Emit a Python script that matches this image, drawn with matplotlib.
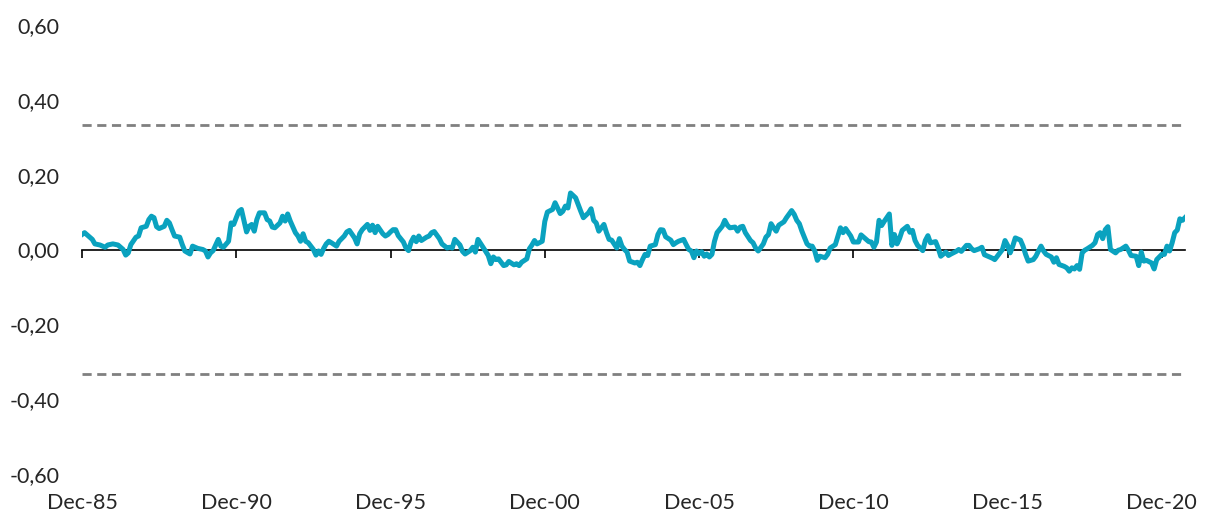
import matplotlib
matplotlib.use("Agg")
import matplotlib.pyplot as plt
from matplotlib.ticker import FuncFormatter

# months counted from Dec-1985 (0) to Sep-2021 (429)
months = [
    0, 1, 3, 4, 5, 7, 9, 10, 12, 14, 16, 17, 18, 19, 21, 22, 23, 25, 26, 27,
    28, 29, 30, 32, 33, 34, 35, 36, 38, 39, 40, 42, 43, 45, 47, 48, 49, 50, 51, 53,
    54, 55, 57, 58, 59, 60, 61, 62, 64, 65, 66, 67, 68, 69, 71, 72, 73, 74, 75, 77,
    78, 79, 80, 81, 83, 84, 85, 86, 87, 88, 90, 91, 92, 93, 94, 95, 96, 97, 99, 100,
    102, 103, 104, 106, 107, 108, 109, 111, 112, 113, 114, 115, 117, 118, 119, 120, 121, 122, 123, 125,
    126, 127, 128, 129, 130, 131, 132, 134, 135, 136, 137, 139, 140, 142, 143, 144, 145, 147, 148, 149,
    151, 152, 153, 154, 156, 157, 158, 159, 160, 161, 162, 164, 165, 166, 168, 169, 170, 171, 173, 174,
    175, 176, 177, 179, 180, 181, 183, 184, 186, 187, 188, 189, 190, 192, 193, 194, 195, 197, 198, 199,
    200, 201, 203, 204, 205, 206, 208, 209, 210, 211, 212, 213, 215, 216, 217, 218, 219, 220, 221, 223,
    224, 225, 226, 227, 229, 230, 231, 232, 234, 235, 236, 237, 238, 239, 240, 241, 242, 243, 244, 245,
    246, 247, 249, 250, 251, 252, 254, 255, 256, 257, 258, 260, 261, 262, 263, 265, 266, 267, 268, 269,
    270, 271, 273, 274, 276, 277, 278, 279, 280, 282, 283, 284, 285, 286, 287, 289, 290, 291, 293, 294,
    295, 296, 297, 299, 300, 302, 303, 304, 306, 307, 308, 309, 310, 311, 312, 314, 315, 316, 317, 318,
    319, 321, 322, 323, 324, 325, 327, 328, 329, 330, 332, 333, 334, 336, 337, 338, 340, 341, 342, 344,
    345, 346, 347, 349, 350, 351, 353, 354, 355, 356, 358, 359, 360, 361, 362, 363, 365, 366, 367, 368,
    370, 371, 372, 373, 374, 375, 377, 378, 379, 380, 382, 383, 384, 385, 386, 387, 388, 389, 390, 391,
    393, 394, 395, 396, 397, 398, 399, 400, 402, 403, 404, 406, 407, 408, 410, 411, 412, 413, 414, 416,
    417, 418, 420, 421, 422, 423, 424, 425, 426, 427, 428, 429,
]
values = [
    0.040, 0.045, 0.033, 0.027, 0.015, 0.012, 0.006, 0.012, 0.015, 0.012, 0.000, -0.015, -0.009, 0.013, 0.033, 0.036, 0.058, 0.062, 0.080, 0.089,
    0.085, 0.061, 0.056, 0.062, 0.078, 0.071, 0.053, 0.036, 0.033, 0.013, -0.004, -0.012, 0.009, 0.003, 0.000, -0.004, -0.020, -0.009, -0.003, 0.027,
    0.009, 0.006, 0.022, 0.071, 0.067, 0.085, 0.102, 0.107, 0.047, 0.062, 0.067, 0.049, 0.080, 0.098, 0.098, 0.080, 0.076, 0.060, 0.058, 0.071,
    0.089, 0.076, 0.095, 0.076, 0.045, 0.036, 0.022, 0.042, 0.022, 0.018, 0.000, -0.015, -0.004, -0.013, 0.003, 0.015, 0.022, 0.018, 0.009, 0.022,
    0.036, 0.047, 0.051, 0.031, 0.015, 0.042, 0.053, 0.067, 0.051, 0.065, 0.045, 0.062, 0.042, 0.036, 0.040, 0.047, 0.053, 0.053, 0.037, 0.020,
    0.004, -0.003, 0.020, 0.033, 0.021, 0.036, 0.024, 0.033, 0.036, 0.045, 0.048, 0.029, 0.015, 0.004, 0.006, 0.004, 0.027, 0.012, -0.005, -0.012,
    -0.003, 0.006, -0.007, 0.027, 0.006, -0.005, -0.016, -0.038, -0.020, -0.027, -0.025, -0.043, -0.041, -0.032, -0.041, -0.038, -0.043, -0.034, -0.025, 0.002,
    0.012, 0.024, 0.015, 0.022, 0.075, 0.100, 0.107, 0.125, 0.096, 0.102, 0.116, 0.111, 0.151, 0.138, 0.120, 0.102, 0.085, 0.098, 0.109, 0.078,
    0.071, 0.049, 0.067, 0.045, 0.027, 0.025, 0.004, 0.029, 0.009, 0.000, -0.007, -0.031, -0.036, -0.034, -0.043, -0.027, -0.013, -0.016, 0.009, 0.013,
    0.040, 0.053, 0.052, 0.034, 0.025, 0.013, 0.018, 0.022, 0.027, 0.013, 0.000, -0.004, -0.022, -0.004, -0.011, -0.006, -0.018, -0.012, -0.020, -0.013,
    0.022, 0.045, 0.062, 0.078, 0.065, 0.058, 0.060, 0.049, 0.060, 0.062, 0.045, 0.024, 0.018, 0.004, -0.004, 0.015, 0.033, 0.040, 0.069, 0.058,
    0.049, 0.065, 0.074, 0.085, 0.104, 0.094, 0.078, 0.069, 0.049, 0.015, 0.009, 0.009, -0.004, -0.029, -0.018, -0.022, -0.013, 0.004, 0.013, 0.036,
    0.058, 0.045, 0.056, 0.036, 0.020, 0.020, 0.039, 0.033, 0.021, 0.020, 0.006, 0.020, 0.078, 0.064, 0.075, 0.095, 0.011, 0.040, 0.015, 0.030,
    0.051, 0.062, 0.046, 0.051, 0.024, 0.011, -0.003, 0.024, 0.037, 0.018, 0.021, 0.004, -0.018, -0.007, -0.016, -0.012, -0.005, 0.000, -0.005, 0.011,
    0.011, 0.002, -0.003, 0.002, 0.006, -0.014, -0.020, -0.023, -0.027, -0.018, 0.000, 0.024, 0.011, -0.009, 0.009, 0.031, 0.025, 0.009, -0.013, -0.031,
    -0.027, -0.018, -0.004, 0.009, -0.004, -0.013, -0.020, -0.034, -0.022, -0.040, -0.045, -0.049, -0.058, -0.049, -0.052, -0.043, -0.053, -0.009, -0.002, 0.002,
    0.011, 0.018, 0.040, 0.045, 0.029, 0.053, 0.061, 0.000, -0.009, -0.002, 0.000, 0.009, -0.002, -0.016, -0.018, -0.043, -0.007, -0.031, -0.029, -0.036,
    -0.052, -0.027, -0.013, -0.013, 0.009, -0.004, 0.018, 0.045, 0.052, 0.082, 0.078, 0.085,
]

band_upper = 0.333
band_lower = -0.333

tick_months = [0, 60, 120, 180, 240, 300, 360, 420]
tick_labels = ["Dec-85", "Dec-90", "Dec-95", "Dec-00", "Dec-05", "Dec-10", "Dec-15", "Dec-20"]
y_ticks = [-0.6, -0.4, -0.2, 0.0, 0.2, 0.4, 0.6]

plt.rcParams["font.family"] = ["Lato", "DejaVu Sans"]
text_color = "#262626"

fig = plt.figure(figsize=(12.13, 5.14), dpi=100)
ax = fig.add_axes([82 / 1213, 1 - 474 / 514, (1185 - 82) / 1213, (474 - 25) / 514])

ax.axhline(band_upper, color="#808080", lw=2.0, ls=(0, (3.3, 2.0)))
ax.axhline(band_lower, color="#808080", lw=2.0, ls=(0, (3.3, 2.0)))
ax.plot(months, values, color="#0aa2bf", lw=3.6, solid_joinstyle="round", zorder=3)

ax.set_xlim(months[0], months[-1])
ax.set_ylim(-0.6, 0.6)

for side in ("top", "right", "left"):
    ax.spines[side].set_visible(False)
ax.spines["bottom"].set_position(("data", 0))
ax.spines["bottom"].set_linewidth(1.2)
ax.spines["bottom"].set_zorder(2)

ax.set_xticks(tick_months)
ax.tick_params(axis="x", direction="out", length=6, width=1.2, labelbottom=False)

sec = ax.secondary_xaxis("bottom")
sec.set_xticks(tick_months, tick_labels)
sec.tick_params(length=0, pad=13.5, labelsize=15.5, labelcolor=text_color)
sec.spines["bottom"].set_visible(False)

ax.set_yticks(y_ticks)
ax.yaxis.set_major_formatter(FuncFormatter(lambda v, _: f"{v:.2f}".replace(".", ",")))
ax.tick_params(axis="y", length=0, pad=16, labelsize=15.5, labelcolor=text_color)

fig.savefig("out.png", dpi=100)
